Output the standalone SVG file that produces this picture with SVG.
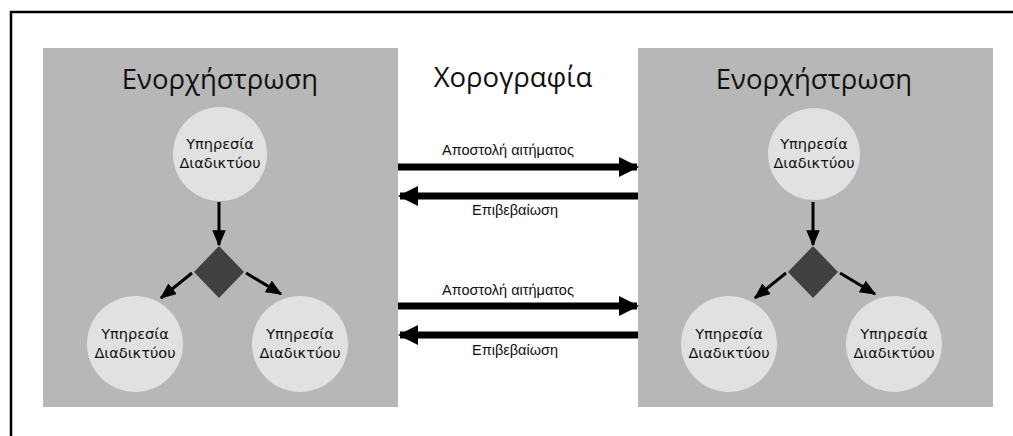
<svg xmlns="http://www.w3.org/2000/svg" width="1013" height="436" viewBox="0 0 1013 436">
<style>
.panel{fill:#b7b7b7}
.svc{fill:#e1e1e1}
.dec{fill:#404040}
.title{font-family:"Open Sans","Liberation Sans",sans-serif;font-size:27.5px;fill:#111;text-anchor:middle}
.svct{font-family:"DejaVu Sans","Liberation Sans",sans-serif;font-size:14.5px;fill:#111;text-anchor:middle}
.lbl{font-family:"Liberation Sans",Arial,sans-serif;font-size:14.5px;fill:#111;text-anchor:middle}
.thin{stroke:#000;stroke-width:3;fill:none}
.thick{stroke:#000;stroke-width:7;fill:none}
</style>
<defs>
<marker id="ah" viewBox="0 0 12 10" refX="11" refY="5" markerWidth="5.4" markerHeight="4.6" orient="auto" markerUnits="strokeWidth">
<path d="M0,0 L12,5 L0,10 Z" fill="#000"/>
</marker>
<marker id="bh" viewBox="0 0 10 10" refX="9" refY="5" markerWidth="2.9" markerHeight="2.9" orient="auto" markerUnits="strokeWidth">
<path d="M0,0 L10,5 L0,10 Z" fill="#000"/>
</marker>
</defs>
<rect width="1013" height="436" fill="#fff"/>
<path d="M11,437 V12 H1014" fill="none" stroke="#000" stroke-width="2.5"/>

<g id="panel-left">
<rect class="panel" x="43" y="48" width="355" height="359"/>
<text class="title" x="220" y="89">Ενορχήστρωση</text>
</g>
<g id="panel-right">
<rect class="panel" x="638" y="48" width="355" height="359"/>
<text class="title" x="814" y="89">Ενορχήστρωση</text>
</g>
<g id="title-choreography">
<text class="title" x="513" y="87">Χορογραφία</text>
</g>

<g id="ws-left-top"><circle class="svc" cx="220" cy="154" r="47"/><text class="svct" x="220" y="149">Υπηρεσία</text><text class="svct" x="220" y="167.5">Διαδικτύου</text></g>
<g id="ws-left-bl"><circle class="svc" cx="135" cy="344" r="48"/><text class="svct" x="135" y="339">Υπηρεσία</text><text class="svct" x="135" y="357.5">Διαδικτύου</text></g>
<g id="ws-left-br"><circle class="svc" cx="300" cy="344" r="48"/><text class="svct" x="300" y="339">Υπηρεσία</text><text class="svct" x="300" y="357.5">Διαδικτύου</text></g>
<g id="dec-left"><path class="dec" d="M219,246 L244,272 L219,298 L194,272 Z"/></g>

<g id="ws-right-top"><circle class="svc" cx="814" cy="154" r="46"/><text class="svct" x="814" y="149">Υπηρεσία</text><text class="svct" x="814" y="167.5">Διαδικτύου</text></g>
<g id="ws-right-bl"><circle class="svc" cx="729" cy="344" r="48"/><text class="svct" x="729" y="339">Υπηρεσία</text><text class="svct" x="729" y="357.5">Διαδικτύου</text></g>
<g id="ws-right-br"><circle class="svc" cx="894" cy="344" r="48"/><text class="svct" x="894" y="339">Υπηρεσία</text><text class="svct" x="894" y="357.5">Διαδικτύου</text></g>
<g id="dec-right"><path class="dec" d="M813,246 L838,272 L813,298 L788,272 Z"/></g>

<g id="connectors">
<line class="thin" x1="219" y1="202" x2="219" y2="245" marker-end="url(#ah)"/>
<line class="thin" x1="192" y1="273" x2="161" y2="298" marker-end="url(#ah)"/>
<line class="thin" x1="246" y1="273" x2="281" y2="294" marker-end="url(#ah)"/>
<line class="thin" x1="813" y1="202" x2="813" y2="245" marker-end="url(#ah)"/>
<line class="thin" x1="786" y1="273" x2="755" y2="298" marker-end="url(#ah)"/>
<line class="thin" x1="840" y1="273" x2="875" y2="294" marker-end="url(#ah)"/>

<line class="thick" x1="398" y1="167" x2="637" y2="167" marker-end="url(#bh)"/>
<line class="thick" x1="638" y1="196" x2="400" y2="196" marker-end="url(#bh)"/>
<line class="thick" x1="398" y1="306" x2="637" y2="306" marker-end="url(#bh)"/>
<line class="thick" x1="638" y1="335" x2="400" y2="335" marker-end="url(#bh)"/>
<text class="lbl" x="508" y="155">Αποστολή αιτήματος</text>
<text class="lbl" x="515" y="215">Επιβεβαίωση</text>
<text class="lbl" x="508" y="295">Αποστολή αιτήματος</text>
<text class="lbl" x="515" y="355">Επιβεβαίωση</text>
</g>
</svg>
